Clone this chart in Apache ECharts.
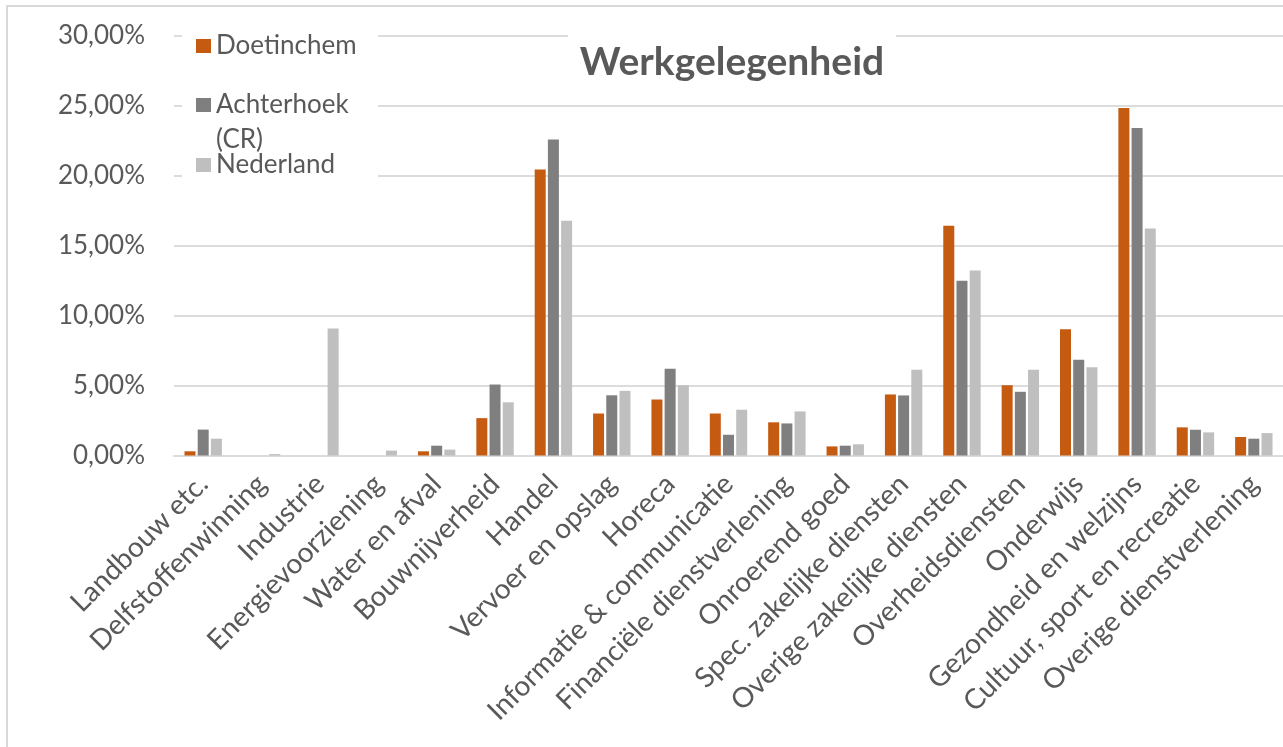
<!DOCTYPE html>
<html>
<head>
<meta charset="utf-8">
<title>Werkgelegenheid</title>
<script src="https://cdn.jsdelivr.net/npm/echarts@6/dist/echarts.min.js"></script>
<style>
  html, body { margin: 0; padding: 0; background: #ffffff; }
  #chart { width: 1283px; height: 747px; }
</style>
</head>
<body>
<div id="chart"></div>
<script>
// Sectoren (categorie-as)
const categories = [
  'Landbouw etc.', 'Delfstoffenwinning', 'Industrie', 'Energievoorziening',
  'Water en afval', 'Bouwnijverheid', 'Handel', 'Vervoer en opslag', 'Horeca',
  'Informatie & communicatie', 'Financiële dienstverlening', 'Onroerend goed',
  'Spec. zakelijke diensten', 'Overige zakelijke diensten', 'Overheidsdiensten',
  'Onderwijs', 'Gezondheid en welzijns', 'Cultuur, sport en recreatie',
  'Overige dienstverlening'
];

// Aandeel werkgelegenheid per sector, in procenten
const doetinchem = [0.30, 0, 0, 0, 0.30, 2.67, 20.42, 3.00, 4.00, 3.00, 2.37, 0.65, 4.36, 16.41, 5.02, 9.02, 24.83, 2.01, 1.32];
const achterhoek = [1.85, 0, 0, 0, 0.70, 5.07, 22.57, 4.30, 6.20, 1.48, 2.29, 0.70, 4.29, 12.49, 4.55, 6.84, 23.40, 1.84, 1.20];
const nederland  = [1.20, 0.10, 9.07, 0.35, 0.42, 3.80, 16.77, 4.62, 5.02, 3.27, 3.15, 0.80, 6.12, 13.22, 6.12, 6.31, 16.22, 1.65, 1.60];

const seriesNames = ['Doetinchem', 'Achterhoek (CR)', 'Nederland'];
const seriesColors = ['#C55A11', '#7F7F7F', '#BFBFBF'];

// Y-as: 0 t/m 30 in stappen van 5
const yMin = 0, yMax = 30, yStep = 5;

const FONT = 'Lato, "Open Sans", sans-serif';
const TEXT = '#595959';
const GRID = '#dcdcdc';

const pct = v => v.toFixed(2).replace('.', ',') + '%';

const legendText = { color: TEXT, fontFamily: FONT, fontSize: 26, lineHeight: 30 };
const legendBase = { left: 196, padding: 0, icon: 'rect', itemWidth: 15, itemHeight: 14, itemGap: 0 };

const chart = echarts.init(document.getElementById('chart'), null, { renderer: 'canvas' });

chart.setOption({
  backgroundColor: '#ffffff',
  animation: false,
  title: {
    text: 'Werkgelegenheid',
    left: 720,
    top: 24,
    textAlign: 'center',
    backgroundColor: '#ffffff',
    padding: [19, 12, 4, 12],
    textStyle: { color: TEXT, fontFamily: FONT, fontSize: 39, fontWeight: 'bold' }
  },
  legend: [
    Object.assign({}, legendBase, {
      data: [seriesNames[0]], top: 31,
      textStyle: legendText
    }),
    Object.assign({}, legendBase, {
      // lege eerste regel, zodat "Achterhoek" naast het blokje staat en "(CR)" eronder
      data: [seriesNames[1]], top: 52.5,
      formatter: () => '\nAchterhoek\n(CR)',
      textStyle: Object.assign({}, legendText, { lineHeight: 35 })
    }),
    Object.assign({}, legendBase, {
      data: [seriesNames[2]], top: 150,
      textStyle: legendText
    })
  ],
  graphic: [
    // witte achtergrond achter de legenda (onderbreekt de rasterlijnen)
    { type: 'rect', z: 1, silent: true,
      shape: { x: 182, y: 22, width: 196, height: 168 },
      style: { fill: '#ffffff' } },
    // rand rond het diagramgebied
    { type: 'rect', z: 10, silent: true,
      shape: { x: 7, y: 6, width: 1400, height: 900 },
      style: { fill: 'none', stroke: '#d9d9d9', lineWidth: 2 } }
  ],
  grid: { left: 174, right: 0, top: 35.5, bottom: 291.5, containLabel: false },
  xAxis: {
    type: 'category',
    data: categories,
    axisLine: { show: true, lineStyle: { color: GRID, width: 2 } },
    axisTick: { show: false },
    axisLabel: {
      interval: 0, rotate: 45, margin: 24,
      color: TEXT, fontFamily: FONT, fontSize: 28
    }
  },
  yAxis: {
    type: 'value',
    min: yMin, max: yMax, interval: yStep,
    axisLine: { show: false },
    axisTick: { show: false },
    splitLine: { lineStyle: { color: GRID, width: 2 } },
    axisLabel: {
      margin: 29, color: TEXT, fontFamily: FONT, fontSize: 26,
      formatter: pct
    }
  },
  series: [doetinchem, achterhoek, nederland].map((vals, i) => ({
    name: seriesNames[i],
    type: 'bar',
    data: vals,
    barWidth: 11,
    barGap: '20%',
    itemStyle: { color: seriesColors[i] }
  }))
});
</script>
</body>
</html>
